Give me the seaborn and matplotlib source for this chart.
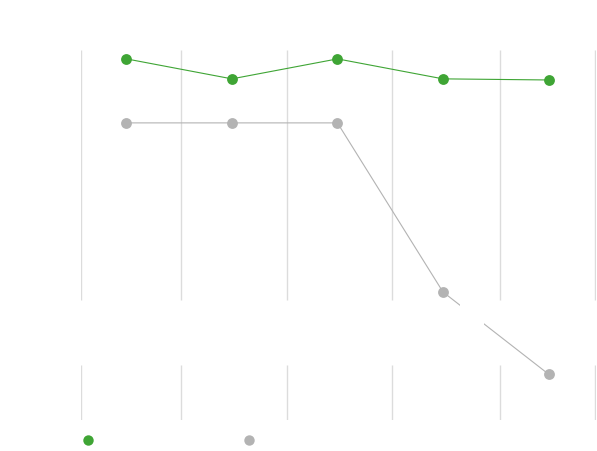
import pandas as pd
import seaborn as sns
import matplotlib.pyplot as plt
from matplotlib.lines import Line2D
from matplotlib.patches import Rectangle

# values (y axis 0-100)
periods = [0, 1, 2, 3, 4]
green_vals = [97.6, 92.2, 97.6, 92.2, 91.9]
gray_vals = [80.3, 80.3, 80.3, 34.6, 12.4]
series_names = ["green", "gray"]
colors = {"green": "#3fa535", "gray": "#b3b3b3"}

# vertical grid positions (between periods)
grid_x = [-0.43, 0.52, 1.52, 2.52, 3.54, 4.44]

df = pd.DataFrame({
    "period": periods * 2,
    "value": green_vals + gray_vals,
    "series": ["green"] * len(periods) + ["gray"] * len(periods),
})

sns.set_style("white")
fig = plt.figure(figsize=(5.97, 4.51), dpi=100)
ax = fig.add_axes([81 / 597, 31 / 451, 515 / 597, 370 / 451])

# gridlines are drawn in two pieces, with a gap in the lower part
ax.vlines(grid_x, 32.4, 100, color="#dcdcdc", linewidth=1, zorder=0)
ax.vlines(grid_x, 0, 14.9, color="#dcdcdc", linewidth=1, zorder=0)

sns.lineplot(data=df, x="period", y="value", hue="series", hue_order=series_names,
             palette=colors, marker="o", markersize=7.8, markeredgewidth=0,
             linewidth=0.8, legend=False, ax=ax)

# white label box that cuts the gray line
ax.add_patch(Rectangle((3.16, 24.0), 0.23, 7.5, facecolor="white",
                       edgecolor="none", zorder=5))

ax.set_xlim(-0.43, 4.45)
ax.set_ylim(0, 100)
ax.set_xticks([])
ax.set_yticks([])
ax.set_xlabel("")
ax.set_ylabel("")
for s in ax.spines.values():
    s.set_visible(False)

handles = [Line2D([], [], linestyle="none", marker="o", markersize=7.5,
                  markeredgewidth=0, color=colors[n]) for n in series_names]
fig.legend(handles, ["", ""], loc="center left", bbox_to_anchor=(81 / 597, 10 / 451),
           ncol=2, frameon=False, handlelength=1, handletextpad=0,
           columnspacing=10.6, borderpad=0, borderaxespad=0)

plt.savefig("out.png", dpi=100)
